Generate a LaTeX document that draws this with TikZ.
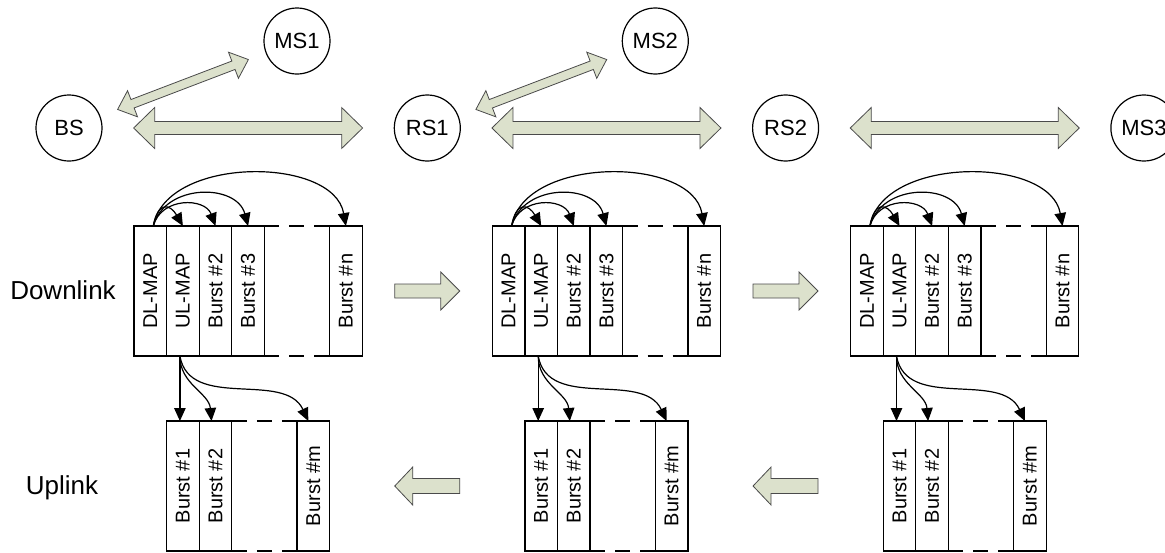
\documentclass[tikz,border=0pt]{standalone}
\usepackage{fontspec}
\setmainfont{Liberation Sans}
\usepackage{graphicx}
\usetikzlibrary{arrows.meta, positioning, calc}
\definecolor{linkfill}{HTML}{DCE1CC}
\definecolor{linkdraw}{HTML}{4A4A4A}

% fat two-headed arrow between two nodes: from, to, half length, shaft, head, head length
\newcommand{\dblarrow}[6]{%
  \coordinate (mid) at ($(#1)!0.5!(#2)$);
  \coordinate (ta) at ($(mid)!#3!(#1)$);
  \coordinate (tb) at ($(mid)!#3!(#2)$);
  \coordinate (ha) at ($(ta)!#6!(tb)$);
  \coordinate (hb) at ($(tb)!#6!(ta)$);
  \draw[blockarrow] (ta) -- ($(ha)!#5!90:(tb)$) -- ($(ha)!#4!90:(tb)$)
    -- ($(hb)!#4!-90:(ta)$) -- ($(hb)!#5!-90:(ta)$) -- (tb)
    -- ($(hb)!#5!90:(ta)$) -- ($(hb)!#4!90:(ta)$)
    -- ($(ha)!#4!-90:(tb)$) -- ($(ha)!#5!-90:(tb)$) -- cycle;
}
% fat one-headed arrow: tail, tip, shaft, head, head length
\newcommand{\sglarrow}[5]{%
  \coordinate (hb) at ($(#2)!#5!(#1)$);
  \draw[blockarrow] ($(#1)!#3!90:(#2)$) -- ($(hb)!#3!90:(#2)$) -- ($(hb)!#4!90:(#2)$)
    -- (#2) -- ($(hb)!#4!-90:(#2)$) -- ($(hb)!#3!-90:(#2)$) -- ($(#1)!#3!-90:(#2)$) -- cycle;
}

\begin{document}
\begin{tikzpicture}[x=1pt, y=1pt,
    station/.style={circle, draw, line width=1.2pt, minimum size=66pt, inner sep=0pt,
      font=\fontsize{22}{26}\selectfont},
    slot/.style={draw, line width=1.3pt, minimum width=32.6pt, minimum height=130pt,
      inner sep=0pt, outer sep=0pt, font=\fontsize{20}{24}\selectfont},
    gapline/.style={line width=1.3pt, dash pattern=on 15pt off 10pt},
    mapto/.style={line width=1.2pt, -{Triangle[length=13pt, width=11.5pt]}},
    blockarrow/.style={fill=linkfill, draw=linkdraw, line width=0.8pt, line join=miter},
    lbl/.style={font=\fontsize{26}{30}\selectfont}
]
    \useasboundingbox (0,0) rectangle (1165,-552);

    % Stations
    \node[station] (bs)  at (69,-128)     {BS};
    \node[station] (rs1) at (427.3,-128)  {RS1};
    \node[station] (rs2) at (785.6,-128)  {RS2};
    \node[station] (ms3) at (1143.9,-128) {MS3};
    \node[station] (ms1) at (297,-41)     {MS1};
    \node[station] (ms2) at (655.3,-41)   {MS2};

    % Radio links
    \dblarrow{bs}{rs1}{114.5pt}{6.5pt}{20.5pt}{21pt}
    \dblarrow{rs1}{rs2}{114.5pt}{6.5pt}{20.5pt}{21pt}
    \dblarrow{rs2}{ms3}{114.5pt}{6.5pt}{20.5pt}{21pt}
    \dblarrow{bs}{ms1}{70pt}{4.5pt}{14pt}{16pt}
    \dblarrow{rs1}{ms2}{70pt}{4.5pt}{14pt}{16pt}

    % Row labels
    \node[lbl] (dltxt) at (63,-290) {Downlink};
    \node[lbl] (ultxt) at (62,-488) {Uplink};

    % Frames of BS, RS1, RS2
    \foreach \k/\x in {A/150.3, B/508.6, C/866.9} {
        % downlink subframe
        \node[slot] (dlmap\k) at (\x,-291) {\rotatebox{90}{DL-MAP}};
        \node[slot, right=0pt of dlmap\k] (ulmap\k) {\rotatebox{90}{UL-MAP}};
        \node[slot, right=0pt of ulmap\k] (dlb2\k) {\rotatebox{90}{Burst \#2}};
        \node[slot, right=0pt of dlb2\k] (dlb3\k) {\rotatebox{90}{Burst \#3}};
        \node[slot, right=65.2pt of dlb3\k] (dlbn\k) {\rotatebox{90}{Burst \#n}};
        \draw[gapline] (dlb3\k.north east) -- (dlbn\k.north west);
        \draw[gapline] (dlb3\k.south east) -- (dlbn\k.south west);

        % uplink subframe
        \node[slot, below=65pt of ulmap\k] (ulb1\k) {\rotatebox{90}{Burst \#1}};
        \node[slot, right=0pt of ulb1\k] (ulb2\k) {\rotatebox{90}{Burst \#2}};
        \node[slot, right=65.2pt of ulb2\k] (ulbm\k) {\rotatebox{90}{Burst \#m}};
        \draw[gapline] (ulb2\k.north east) -- (ulbm\k.north west);
        \draw[gapline] (ulb2\k.south east) -- (ulbm\k.south west);

        % DL-MAP pointers
        \coordinate (dlsrc\k) at ($(dlmap\k.north)+(3,0)$);
        \draw[mapto] (dlsrc\k) to[out=80, in=120, looseness=2.2] (ulmap\k.north);
        \draw[mapto] (dlsrc\k) to[out=75, in=110, looseness=1.25] (dlb2\k.north);
        \draw[mapto] (dlsrc\k) to[out=75, in=105, looseness=1.2] (dlb3\k.north);
        \draw[mapto] (dlsrc\k) to[out=80, in=100, looseness=0.95] (dlbn\k.north);

        % UL-MAP pointers
        \coordinate (ulsrc\k) at ($(ulmap\k.south)+(-3,0)$);
        \draw[mapto] (ulsrc\k) -- ($(ulb1\k.north)+(-3,0)$);
        \draw[mapto] (ulsrc\k) to[out=-90, in=95] ($(ulb2\k.north)+(-4,0)$);
        \draw[mapto] (ulsrc\k) to[out=-80, in=115] ($(ulbm\k.north)+(-5,0)$);
    }

    % Relaying between frames
    \coordinate (gapAB) at ($(dlbnA.east)!0.5!(dlmapB.west)$);
    \coordinate (gapBC) at ($(dlbnB.east)!0.5!(dlmapC.west)$);
    \coordinate (fwdAt) at ($(gapAB)+(-32.5,0)$);
    \coordinate (fwdAh) at ($(gapAB)+(32.5,0)$);
    \coordinate (fwdBt) at ($(gapBC)+(-32.5,0)$);
    \coordinate (fwdBh) at ($(gapBC)+(32.5,0)$);
    \coordinate (bckAt) at ($(gapAB)+(32.5,-195)$);
    \coordinate (bckAh) at ($(gapAB)+(-32.5,-195)$);
    \coordinate (bckBt) at ($(gapBC)+(32.5,-195)$);
    \coordinate (bckBh) at ($(gapBC)+(-32.5,-195)$);
    \sglarrow{fwdAt}{fwdAh}{7pt}{19pt}{19pt}
    \sglarrow{fwdBt}{fwdBh}{7pt}{19pt}{19pt}
    \sglarrow{bckAt}{bckAh}{7.5pt}{19pt}{18pt}
    \sglarrow{bckBt}{bckBh}{7.5pt}{19pt}{18pt}

\end{tikzpicture}
\end{document}
